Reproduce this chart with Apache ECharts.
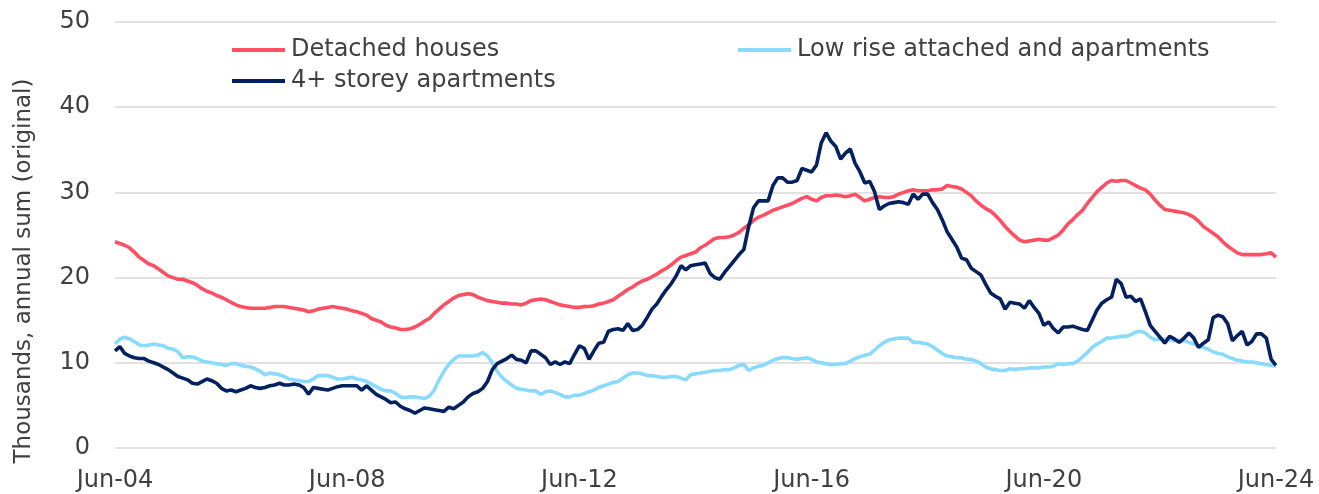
<!DOCTYPE html>
<html>
<head>
<meta charset="utf-8">
<script src="https://cdn.jsdelivr.net/npm/echarts@6/dist/echarts.min.js"></script>
<style>html,body{margin:0;padding:0;background:#fff;}#c{width:1319px;height:494px;}</style>
</head>
<body>
<div id="c"></div>
<script>
// Monthly categories Jun-04 .. Jun-24
const monthNames = ['Jan','Feb','Mar','Apr','May','Jun','Jul','Aug','Sep','Oct','Nov','Dec'];
const categories = [];
for (let i = 0; i <= 240; i++) {
  const m = (5 + i) % 12;
  const y = 2004 + Math.floor((5 + i) / 12);
  categories.push(monthNames[m] + '-' + String(y % 100).padStart(2, '0'));
}

const seriesNames = ['Detached houses', 'Low rise attached and apartments', '4+ storey apartments'];

const detached = [
  24.2,24.0,23.8,23.5,23.0,22.4,22.0,21.6,21.4,21.0,20.6,20.2,
  20.0,19.8,19.8,19.6,19.4,19.1,18.7,18.4,18.2,17.9,17.7,17.4,
  17.1,16.8,16.6,16.5,16.4,16.4,16.4,16.4,16.5,16.6,16.6,16.6,
  16.5,16.4,16.3,16.2,16.0,16.1,16.3,16.4,16.5,16.6,16.5,16.4,
  16.3,16.1,16.0,15.8,15.6,15.2,15.0,14.8,14.4,14.2,14.1,13.9,
  13.9,14.0,14.2,14.5,14.9,15.2,15.8,16.3,16.8,17.2,17.6,17.9,
  18.0,18.1,18.0,17.7,17.5,17.3,17.2,17.1,17.0,17.0,16.9,16.9,
  16.8,17.0,17.3,17.4,17.5,17.4,17.2,17.0,16.8,16.7,16.6,16.5,
  16.5,16.6,16.6,16.7,16.9,17.0,17.2,17.4,17.8,18.2,18.6,18.9,
  19.3,19.6,19.8,20.1,20.4,20.8,21.1,21.5,22.0,22.4,22.6,22.8,
  23.0,23.5,23.8,24.2,24.6,24.7,24.7,24.8,25.0,25.3,25.8,26.2,
  26.7,27.1,27.3,27.6,27.9,28.1,28.3,28.5,28.7,29.0,29.3,29.5,
  29.2,29.0,29.4,29.6,29.6,29.7,29.6,29.5,29.6,29.8,29.4,29.0,
  29.2,29.4,29.5,29.4,29.4,29.5,29.8,30.0,30.2,30.3,30.2,30.2,
  30.2,30.3,30.3,30.4,30.8,30.7,30.6,30.4,30.0,29.6,29.0,28.5,
  28.1,27.8,27.3,26.7,26.0,25.4,24.9,24.4,24.2,24.3,24.4,24.5,
  24.4,24.4,24.7,25.0,25.6,26.3,26.8,27.4,27.9,28.7,29.4,30.1,
  30.6,31.1,31.4,31.3,31.4,31.4,31.1,30.8,30.5,30.3,29.8,29.1,
  28.5,28.0,27.9,27.8,27.7,27.6,27.4,27.1,26.6,26.0,25.6,25.2,
  24.8,24.2,23.7,23.3,22.9,22.7,22.7,22.7,22.7,22.7,22.8,22.9,
  22.4
];

const lowRise = [
  12.2,12.8,13.0,12.8,12.5,12.1,12.0,12.1,12.2,12.1,12.0,11.7,
  11.6,11.3,10.6,10.7,10.7,10.5,10.2,10.1,10.0,9.9,9.8,9.7,
  9.9,9.9,9.7,9.6,9.5,9.3,9.0,8.6,8.8,8.7,8.6,8.4,
  8.1,8.0,7.9,7.8,7.8,8.1,8.5,8.5,8.5,8.3,8.1,8.1,
  8.2,8.3,8.1,8.0,7.8,7.5,7.2,6.9,6.7,6.7,6.4,6.0,
  5.9,6.0,6.0,5.9,5.8,6.1,6.8,8.0,9.0,9.8,10.4,10.8,
  10.8,10.8,10.8,10.9,11.2,10.8,10.0,9.0,8.3,7.8,7.4,7.0,
  6.9,6.8,6.7,6.7,6.3,6.6,6.7,6.5,6.3,6.0,6.0,6.2,
  6.2,6.4,6.6,6.8,7.1,7.3,7.5,7.7,7.8,8.2,8.6,8.8,
  8.8,8.7,8.5,8.5,8.4,8.3,8.3,8.4,8.4,8.2,8.0,8.6,
  8.7,8.8,8.9,9.0,9.1,9.1,9.2,9.2,9.4,9.7,9.8,9.1,
  9.4,9.6,9.7,10.0,10.3,10.5,10.6,10.6,10.5,10.4,10.5,10.6,
  10.4,10.1,10.0,9.9,9.8,9.8,9.9,9.9,10.2,10.5,10.7,10.9,
  11.0,11.5,12.0,12.4,12.7,12.8,12.9,12.9,12.9,12.4,12.4,12.3,
  12.2,11.9,11.5,11.1,10.8,10.7,10.6,10.6,10.4,10.4,10.2,9.9,
  9.5,9.3,9.2,9.1,9.1,9.3,9.2,9.3,9.3,9.4,9.4,9.4,
  9.5,9.5,9.6,9.9,9.8,9.9,9.9,10.2,10.7,11.2,11.8,12.2,
  12.5,12.9,12.9,13.0,13.1,13.1,13.3,13.6,13.7,13.5,13.0,12.7,
  12.8,12.8,12.7,12.6,12.6,12.6,12.4,12.2,12.0,11.8,11.6,11.3,
  11.1,11.0,10.7,10.5,10.3,10.2,10.1,10.1,10.0,9.9,9.8,9.7,
  9.6
];

const storey4 = [
  11.4,11.9,11.1,10.8,10.6,10.5,10.5,10.2,10.0,9.8,9.5,9.2,
  8.8,8.4,8.2,8.0,7.6,7.5,7.8,8.1,7.9,7.6,7.0,6.7,
  6.8,6.6,6.8,7.0,7.3,7.1,7.0,7.1,7.3,7.4,7.6,7.4,
  7.4,7.5,7.4,7.1,6.3,7.1,7.0,6.9,6.8,7.0,7.2,7.3,
  7.3,7.3,7.3,6.8,7.3,6.8,6.3,6.0,5.7,5.3,5.4,4.9,
  4.6,4.4,4.1,4.4,4.7,4.6,4.5,4.4,4.3,4.8,4.6,5.0,
  5.4,6.0,6.4,6.6,7.0,7.8,9.2,9.9,10.2,10.5,10.9,10.4,
  10.3,10.0,11.4,11.4,11.0,10.6,9.8,10.1,9.8,10.1,9.9,11.0,
  12.0,11.7,10.4,11.4,12.3,12.4,13.7,13.9,14.0,13.8,14.6,13.8,
  13.9,14.4,15.3,16.3,16.9,17.8,18.6,19.3,20.2,21.4,20.9,21.4,
  21.5,21.6,21.7,20.5,20.0,19.8,20.6,21.3,22.0,22.7,23.3,26.0,
  28.2,29.0,29.0,29.0,30.8,31.7,31.7,31.2,31.2,31.4,32.8,32.6,
  32.4,33.2,35.8,37.0,36.0,35.4,33.9,34.6,35.1,33.4,32.4,31.1,
  31.3,30.1,28.0,28.4,28.7,28.8,28.9,28.8,28.6,29.8,29.2,29.8,
  29.8,28.8,28.0,26.8,25.4,24.5,23.6,22.3,22.1,21.1,20.7,20.3,
  19.2,18.2,17.8,17.5,16.3,17.1,17.0,16.9,16.4,17.3,16.5,15.8,
  14.4,14.8,14.0,13.5,14.2,14.2,14.3,14.1,13.9,13.8,15.0,16.2,
  17.0,17.4,17.7,19.8,19.3,17.7,17.8,17.2,17.5,16.0,14.4,13.7,
  13.0,12.3,13.1,12.8,12.4,12.9,13.5,12.9,11.8,12.3,12.7,15.3,
  15.6,15.4,14.6,12.6,13.2,13.7,12.1,12.5,13.4,13.4,12.9,10.4,
  9.7
];

const yTicks = { min: 0, max: 50, interval: 10 };
const axisTitle = 'Thousands, annual sum (original)';

const colors = ['#ff4f63', '#88dbff', '#04215f'];
const FONT = 'DejaVu Sans';
const textColor = '#404040';

const chart = echarts.init(document.getElementById('c'), null, { renderer: 'canvas' });

function legendAt(name, left, top) {
  return {
    data: [name], left: left, top: top, orient: 'horizontal',
    icon: 'rect', itemWidth: 53, itemHeight: 4, padding: 0,
    textStyle: { fontFamily: FONT, fontSize: 24, color: textColor, padding: [0, 0, 0, 1] }
  };
}

chart.setOption({
  animation: false,
  color: colors,
  grid: { left: 115, right: 43, top: 22, bottom: 46, containLabel: false },
  legend: [
    legendAt(seriesNames[0], 232, 38),
    legendAt(seriesNames[1], 738, 38),
    legendAt(seriesNames[2], 232, 69)
  ],
  xAxis: {
    type: 'category', data: categories, boundaryGap: false,
    axisLine: { show: false }, axisTick: { show: false },
    axisLabel: { interval: 47, fontFamily: FONT, fontSize: 24, color: textColor, margin: 21 },
    splitLine: { show: false }
  },
  yAxis: {
    type: 'value', min: yTicks.min, max: yTicks.max, interval: yTicks.interval,
    axisLine: { show: false }, axisTick: { show: false },
    axisLabel: { fontFamily: FONT, fontSize: 24, color: textColor, margin: 25 },
    splitLine: { lineStyle: { color: '#d9d9d9', width: 1.5 } }
  },
  graphic: [{
    type: 'text', x: 24, y: 271, rotation: Math.PI / 2,
    style: { text: axisTitle, fontFamily: FONT, fontSize: 23, fill: textColor, align: 'center', verticalAlign: 'middle' }
  }],
  series: [
    { name: seriesNames[0], type: 'line', data: detached, showSymbol: false, lineStyle: { width: 3.6, color: colors[0] }, z: 2 },
    { name: seriesNames[1], type: 'line', data: lowRise, showSymbol: false, lineStyle: { width: 3.6, color: colors[1] }, z: 3 },
    { name: seriesNames[2], type: 'line', data: storey4, showSymbol: false, lineStyle: { width: 3.6, color: colors[2] }, z: 4 }
  ]
});
</script>
</body>
</html>
